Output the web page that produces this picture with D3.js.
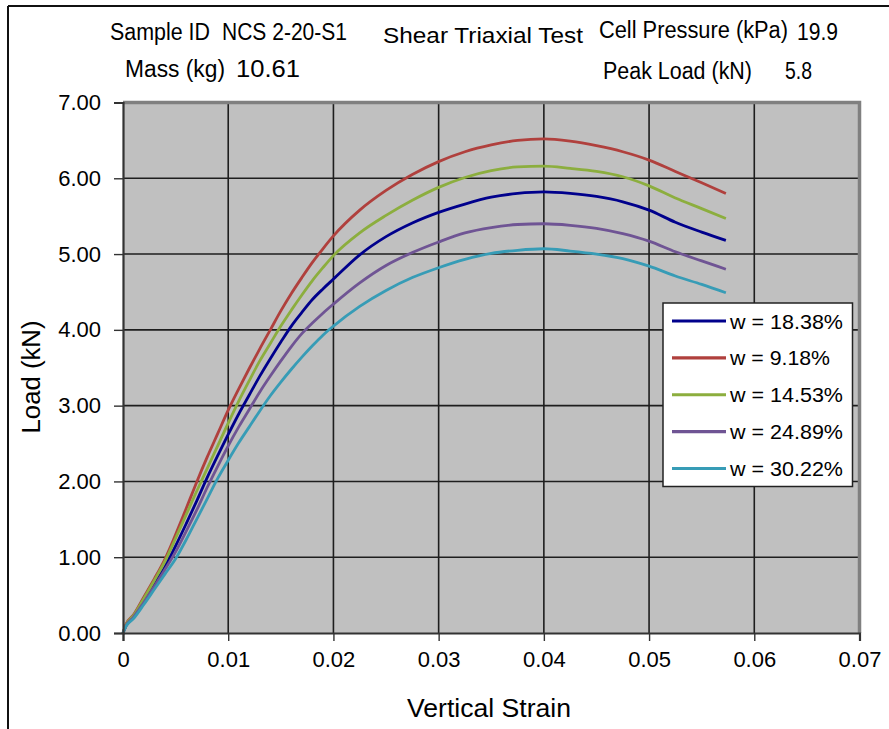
<!DOCTYPE html>
<html>
<head>
<meta charset="utf-8">
<script src="https://cdn.jsdelivr.net/npm/d3@7"></script>
<style>
  html, body { margin: 0; padding: 0; background: #fff; }
  svg { display: block; font-family: "Liberation Sans", Arial, sans-serif; }
</style>
</head>
<body>
<svg id="chart" width="889" height="729"></svg>
<script>
// Vertical strain sample points shared by all series
const strain = [0, 0.0003, 0.001, 0.002, 0.003, 0.004, 0.005, 0.006, 0.007, 0.008, 0.009,
  0.010, 0.011, 0.012, 0.013, 0.014, 0.015, 0.016, 0.017, 0.018, 0.019, 0.020,
  0.0225, 0.025, 0.0275, 0.030, 0.0325, 0.035, 0.0375, 0.040, 0.0425, 0.045,
  0.0475, 0.050, 0.0525, 0.055, 0.0573];

// Load (kN) for each moisture content
const load1838 = [0, 0.10, 0.22, 0.43, 0.65, 0.88, 1.15, 1.44, 1.74, 2.05, 2.34,
  2.62, 2.89, 3.14, 3.39, 3.62, 3.84, 4.05, 4.23, 4.40, 4.54, 4.67,
  4.99, 5.23, 5.41, 5.55, 5.66, 5.75, 5.80, 5.82, 5.80, 5.76,
  5.69, 5.58, 5.42, 5.29, 5.18];
const load918 = [0, 0.12, 0.24, 0.48, 0.72, 0.98, 1.30, 1.64, 1.99, 2.32, 2.63,
  2.94, 3.22, 3.49, 3.75, 4.00, 4.25, 4.48, 4.69, 4.89, 5.07, 5.24,
  5.58, 5.84, 6.05, 6.22, 6.35, 6.44, 6.50, 6.52, 6.49, 6.43,
  6.35, 6.24, 6.09, 5.94, 5.80];
const load1453 = [0, 0.11, 0.23, 0.46, 0.70, 0.95, 1.25, 1.56, 1.87, 2.17, 2.47,
  2.77, 3.06, 3.33, 3.59, 3.82, 4.05, 4.26, 4.46, 4.65, 4.82, 4.98,
  5.28, 5.51, 5.71, 5.88, 6.01, 6.10, 6.15, 6.16, 6.13, 6.09,
  6.02, 5.90, 5.74, 5.60, 5.47];
const load2489 = [0, 0.10, 0.21, 0.41, 0.62, 0.84, 1.07, 1.34, 1.62, 1.92, 2.20,
  2.47, 2.72, 2.95, 3.18, 3.39, 3.59, 3.78, 3.95, 4.09, 4.22, 4.34,
  4.62, 4.85, 5.02, 5.16, 5.28, 5.35, 5.39, 5.40, 5.38, 5.34,
  5.27, 5.17, 5.03, 4.91, 4.80];
const load3022 = [0, 0.09, 0.19, 0.38, 0.58, 0.78, 0.98, 1.23, 1.50, 1.77, 2.04,
  2.28, 2.51, 2.72, 2.93, 3.13, 3.31, 3.48, 3.64, 3.79, 3.93, 4.05,
  4.31, 4.52, 4.69, 4.82, 4.93, 5.01, 5.05, 5.07, 5.04, 5.00,
  4.94, 4.84, 4.71, 4.60, 4.49];

const seriesNames = ["w = 18.38%", "w = 9.18%", "w = 14.53%", "w = 24.89%", "w = 30.22%"];
const seriesLoads = [load1838, load918, load1453, load2489, load3022];
const seriesColors = ["#00008c", "#b0403d", "#8cae3e", "#6f5494", "#379cb6"];

const xTicks = [0, 0.01, 0.02, 0.03, 0.04, 0.05, 0.06, 0.07];
const xTickLabels = ["0", "0.01", "0.02", "0.03", "0.04", "0.05", "0.06", "0.07"];
const yTicks = [0, 1, 2, 3, 4, 5, 6, 7];
const yTickLabels = ["0.00", "1.00", "2.00", "3.00", "4.00", "5.00", "6.00", "7.00"];

const svg = d3.select("#chart");

// plot region
const plotL = 123, plotR = 859.5, plotT = 102.5, plotB = 633;
const x = d3.scaleLinear().domain([0, 0.07]).range([plotL, plotR]);
const y = d3.scaleLinear().domain([0, 7]).range([plotB, plotT]);

// page frame (top and left rules)
svg.append("line").attr("x1", 8).attr("x2", 889).attr("y1", 6).attr("y2", 6)
  .attr("stroke", "#111").attr("stroke-width", 2);
svg.append("line").attr("x1", 8).attr("x2", 8).attr("y1", 6).attr("y2", 729)
  .attr("stroke", "#111").attr("stroke-width", 2);

// header block (condensed labels, regular-width title)
const header = [
  { t: "Sample ID", x: 110, y: 40, w: 100, s: 23 },
  { t: "NCS 2-20-S1", x: 222, y: 40, w: 125, s: 23 },
  { t: "Shear Triaxial Test", x: 383, y: 43, w: 200, s: 22.5 },
  { t: "Cell Pressure (kPa)", x: 599, y: 38, w: 189, s: 23 },
  { t: "19.9", x: 797, y: 40, w: 41, s: 23 },
  { t: "Mass (kg)", x: 125, y: 77, w: 100, s: 23 },
  { t: "10.61", x: 236, y: 77, w: 64, s: 23 },
  { t: "Peak Load (kN)", x: 603, y: 79, w: 149, s: 23 },
  { t: "5.8", x: 785, y: 79, w: 27, s: 23 }
];
svg.append("g").selectAll("text").data(header).join("text")
  .attr("x", d => d.x).attr("y", d => d.y)
  .attr("font-size", d => d.s)
  .attr("textLength", d => d.w).attr("lengthAdjust", "spacingAndGlyphs")
  .attr("fill", "#000")
  .text(d => d.t);

// plot background
svg.append("rect").attr("x", plotL).attr("y", plotT)
  .attr("width", plotR - plotL).attr("height", plotB - plotT)
  .attr("fill", "#c0c0c0");

// gridlines
const grid = svg.append("g");
grid.selectAll("line.v").data(xTicks.slice(1, -1)).join("line")
  .attr("x1", d => x(d)).attr("x2", d => x(d)).attr("y1", plotT).attr("y2", plotB)
  .attr("stroke", "#1e1e1e").attr("stroke-width", 1.6);
grid.selectAll("line.h").data(yTicks.slice(1, -1)).join("line")
  .attr("x1", plotL).attr("x2", plotR).attr("y1", d => y(d)).attr("y2", d => y(d))
  .attr("stroke", "#1e1e1e").attr("stroke-width", 1.6);

// raised top and right edges of the plot area
svg.append("path")
  .attr("d", `M${plotL},${plotT} H${plotR} V${plotB}`)
  .attr("fill", "none").attr("stroke", "#808080").attr("stroke-width", 3.5);

// curves
const line = d3.line()
  .x((d, i) => x(strain[i]))
  .y(d => y(d))
  .curve(d3.curveMonotoneX);
svg.append("g").selectAll("path").data(seriesLoads).join("path")
  .attr("d", d => line(d))
  .attr("fill", "none")
  .attr("stroke", (d, i) => seriesColors[i])
  .attr("stroke-width", 2.8)
  .attr("stroke-linejoin", "round");

// axes
const xAxis = d3.axisBottom(x).tickValues(xTicks).tickSize(8).tickPadding(10)
  .tickFormat((d, i) => xTickLabels[i]);
const yAxis = d3.axisLeft(y).tickValues(yTicks).tickSize(9).tickPadding(13)
  .tickFormat((d, i) => yTickLabels[i]);

const gx = svg.append("g").attr("transform", `translate(0,${plotB})`).call(xAxis);
const gy = svg.append("g").attr("transform", `translate(${plotL},0)`).call(yAxis);
[gx, gy].forEach(g => {
  g.select(".domain").attr("stroke", "#333").attr("stroke-width", 2.2);
  g.selectAll(".tick line").attr("stroke", "#333").attr("stroke-width", 1.4);
  g.selectAll(".tick text").attr("fill", "#000")
    .attr("font-family", "'Liberation Sans', Arial, sans-serif")
    .attr("font-size", 22);
});
gx.selectAll(".tick text").attr("dy", "0.72em");

// axis titles
svg.append("text").attr("x", 489).attr("y", 717)
  .attr("text-anchor", "middle").attr("font-size", 25)
  .attr("textLength", 164).attr("lengthAdjust", "spacingAndGlyphs")
  .text("Vertical Strain");
svg.append("text").attr("transform", "translate(40,377) rotate(-90)")
  .attr("text-anchor", "middle").attr("font-size", 25)
  .attr("textLength", 113).attr("lengthAdjust", "spacingAndGlyphs")
  .text("Load (kN)");

// legend
const legendTextW = [113, 100, 113, 113, 113];
const lg = svg.append("g");
lg.append("rect").attr("x", 663).attr("y", 303).attr("width", 189.5).attr("height", 183.5)
  .attr("fill", "#fff").attr("stroke", "#222").attr("stroke-width", 1.5);
const rowY = d3.scalePoint().domain(d3.range(seriesNames.length)).range([321, 468.5]);
const rows = lg.selectAll("g.row").data(seriesNames).join("g")
  .attr("transform", (d, i) => `translate(0,${rowY(i)})`);
rows.append("line").attr("x1", 672).attr("x2", 726).attr("y1", 0).attr("y2", 0)
  .attr("stroke", (d, i) => seriesColors[i]).attr("stroke-width", 3.2);
rows.append("text").attr("x", 730).attr("y", 7.5)
  .attr("font-size", 20.5)
  .attr("textLength", (d, i) => legendTextW[i]).attr("lengthAdjust", "spacingAndGlyphs")
  .text(d => d);
</script>
</body>
</html>
